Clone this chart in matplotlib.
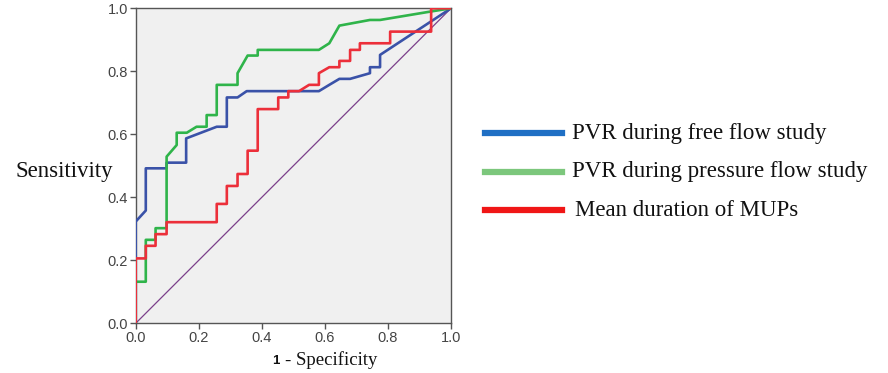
import matplotlib
matplotlib.use("Agg")
import matplotlib.pyplot as plt

# 1 - specificity / sensitivity pairs
free_x = [0.0, 0.0, 0.032, 0.032, 0.098, 0.098, 0.16, 0.16, 0.257, 0.289, 0.289, 0.323, 0.352, 0.581, 0.614, 0.646, 0.68, 0.743, 0.743, 0.775, 0.775, 1.0]
free_y = [0.0, 0.323, 0.358, 0.492, 0.492, 0.51, 0.51, 0.587, 0.624, 0.624, 0.717, 0.717, 0.737, 0.737, 0.757, 0.776, 0.776, 0.794, 0.813, 0.813, 0.852, 1.0]

press_x = [0.0, 0.0, 0.032, 0.032, 0.063, 0.063, 0.098, 0.098, 0.13, 0.13, 0.162, 0.193, 0.225, 0.225, 0.257, 0.257, 0.323, 0.323, 0.355, 0.387, 0.387, 0.581, 0.614, 0.646, 0.743, 0.775, 0.937, 1.0]
press_y = [0.0, 0.132, 0.132, 0.265, 0.265, 0.302, 0.302, 0.529, 0.566, 0.605, 0.605, 0.624, 0.624, 0.661, 0.661, 0.757, 0.757, 0.794, 0.85, 0.85, 0.868, 0.868, 0.889, 0.945, 0.963, 0.963, 0.99, 1.0]

mup_x = [0.0, 0.0, 0.032, 0.032, 0.063, 0.063, 0.098, 0.098, 0.257, 0.257, 0.289, 0.289, 0.323, 0.323, 0.355, 0.355, 0.387, 0.387, 0.452, 0.452, 0.484, 0.484, 0.518, 0.55, 0.581, 0.581, 0.614, 0.646, 0.646, 0.68, 0.68, 0.711, 0.711, 0.807, 0.807, 0.937, 0.937, 1.0]
mup_y = [0.0, 0.206, 0.206, 0.246, 0.246, 0.283, 0.283, 0.321, 0.321, 0.379, 0.379, 0.436, 0.436, 0.474, 0.474, 0.548, 0.548, 0.68, 0.68, 0.717, 0.717, 0.737, 0.737, 0.757, 0.757, 0.794, 0.813, 0.813, 0.833, 0.833, 0.868, 0.868, 0.889, 0.889, 0.926, 0.926, 1.0, 1.0]

ref_x = [0.0, 1.0]
ref_y = [0.0, 1.0]

ticks = [0.0, 0.2, 0.4, 0.6, 0.8, 1.0]
legend_labels = ["PVR during free flow study", "PVR during pressure flow study", "Mean duration of MUPs"]

fig = plt.figure(figsize=(8.88, 3.73), dpi=100)
ax = fig.add_axes([135.7 / 888, (373 - 323.3) / 373, 315.3 / 888, 315.0 / 373])
ax.set_facecolor("#f0f0f0")

ax.plot(ref_x, ref_y, color="#7b3f8a", lw=0.9, zorder=2)
ax.plot(free_x, free_y, color="#3a52a8", lw=1.9, zorder=3)
ax.plot(press_x, press_y, color="#2fb44a", lw=1.9, zorder=4)
ax.plot(mup_x, mup_y, color="#ec2f3a", lw=1.9, zorder=5)

ax.set_xlim(0, 1)
ax.set_ylim(0, 1)
ax.set_xticks(ticks)
ax.set_yticks(ticks)
ax.set_xticklabels([f"{t:.1f}" for t in ticks])
ax.set_yticklabels([f"{t:.1f}" for t in ticks])
for sp in ax.spines.values():
    sp.set_color("#555555")
    sp.set_linewidth(1.0)
ax.tick_params(direction="out", length=4, width=1, color="#555555",
               labelsize=10.5, labelcolor="#444444", pad=1.5)
for lab in ax.get_xticklabels() + ax.get_yticklabels():
    lab.set_family("Liberation Sans")

fig.text(15 / 888, 1 - 171 / 373, "Sensitivity", family="Liberation Serif",
         fontsize=16.5, va="center", ha="left", color="#111111")
fig.text(279 / 888, 1 - 361 / 373, "1", family="Liberation Sans", fontsize=9.5,
         fontweight="bold", va="center", ha="right", color="#111111")
fig.text(285 / 888, 1 - 360 / 373, "- Specificity", family="Liberation Serif",
         fontsize=13.5, va="center", ha="left", color="#111111")

leg_colors = ["#1f6fc4", "#7cc77c", "#f01616"]
leg_y = [133, 172, 210]
leg_tx = [572, 572, 575]
for c, yy, lab, tx in zip(leg_colors, leg_y, legend_labels, leg_tx):
    fig.add_artist(plt.Line2D([485 / 888, 562 / 888], [1 - yy / 373, 1 - yy / 373],
                              color=c, lw=4.5, transform=fig.transFigure))
    fig.text(tx / 888, 1 - yy / 373, lab, family="Liberation Serif", fontsize=16.5,
             va="center", ha="left", color="#111111")

fig.savefig("out.png", dpi=100)
